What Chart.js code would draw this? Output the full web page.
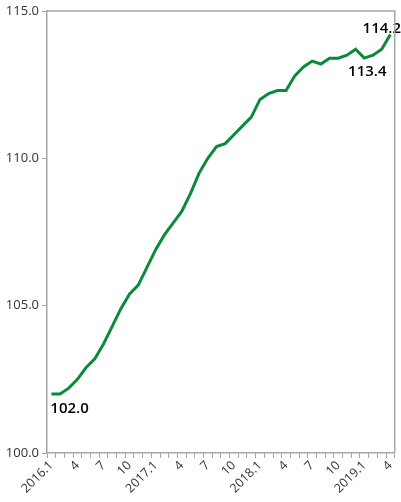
<!DOCTYPE html>
<html>
<head>
<meta charset="utf-8">
<script src="https://cdn.jsdelivr.net/npm/chart.js@4/dist/chart.umd.min.js"></script>
<style>
html,body{margin:0;padding:0;background:#fff;}
canvas{display:block;}
</style>
</head>
<body>
<canvas id="c" width="401" height="502"></canvas>
<script>
const categories = [
 "2016.1","2","3","4","5","6","7","8","9","10","11","12",
 "2017.1","2","3","4","5","6","7","8","9","10","11","12",
 "2018.1","2","3","4","5","6","7","8","9","10","11","12",
 "2019.1","2","3","4"
];
const values = [
 102.0,102.0,102.2,102.5,102.9,103.2,103.7,104.3,104.9,105.4,105.7,106.3,
 106.9,107.4,107.8,108.2,108.8,109.5,110.0,110.4,110.5,110.8,111.1,111.4,
 112.0,112.2,112.3,112.3,112.8,113.1,113.3,113.2,113.4,113.4,113.5,113.7,
 113.4,113.5,113.7,114.2
];
const yTicks = [100, 105, 110, 115];
// indices of points carrying a value label
const labelled = [0, 36, 39];

const FONT = "'Open Sans', 'Noto Sans', sans-serif";
const AXIS = "#a6a6a6";

const frame = {
  id: 'frame',
  afterDraw(chart) {
    const {ctx, chartArea: a} = chart;
    ctx.save();
    ctx.strokeStyle = AXIS;
    ctx.lineWidth = 1.5;
    ctx.beginPath();
    ctx.moveTo(a.left, a.top);
    ctx.lineTo(a.right, a.top);
    ctx.lineTo(a.right, a.bottom);
    ctx.stroke();
    ctx.restore();
  }
};

const valueLabels = {
  id: 'valueLabels',
  afterDatasetsDraw(chart) {
    const {ctx} = chart;
    const meta = chart.getDatasetMeta(0);
    ctx.save();
    ctx.font = "600 15px " + FONT;
    ctx.fillStyle = "#000";
    labelled.forEach(i => {
      const p = meta.data[i];
      const txt = values[i].toFixed(1);
      if (i === 0) {
        ctx.textAlign = 'left'; ctx.textBaseline = 'middle';
        ctx.fillText(txt, p.x - 1, p.y + 15);
      } else if (i === labelled[labelled.length - 1]) {
        ctx.textAlign = 'right'; ctx.textBaseline = 'middle';
        ctx.fillText(txt, chart.width, p.y - 6);
      } else {
        ctx.textAlign = 'center'; ctx.textBaseline = 'middle';
        ctx.fillText(txt, p.x + 3, p.y + 14);
      }
    });
    ctx.restore();
  }
};

new Chart(document.getElementById('c'), {
  type: 'line',
  data: {
    labels: categories,
    datasets: [{
      data: values,
      borderColor: '#0b8a3c',
      borderWidth: 3,
      pointRadius: 0,
      tension: 0,
      fill: false
    }]
  },
  options: {
    responsive: false,
    animation: false,
    devicePixelRatio: 1,
    layout: {padding: {top: 11, right: 1, left: 0, bottom: 0}},
    plugins: {legend: {display: false}, tooltip: {enabled: false}},
    scales: {
      x: {
        type: 'category',
        offset: true,
        grid: {offset: true, drawOnChartArea: false, tickLength: 5, color: AXIS, lineWidth: 1},
        border: {color: AXIS, width: 1.5},
        ticks: {
          autoSkip: false,
          maxRotation: 45, minRotation: 45,
          padding: 0,
          color: '#333',
          font: {family: FONT, size: 12.5},
          callback: (v, i) => (i % 3 === 0 ? categories[i] : '')
        },
        afterFit(s) { s.height = 49; }
      },
      y: {
        min: 100, max: 115,
        afterBuildTicks(s) { s.ticks = yTicks.map(v => ({value: v})); },
        grid: {drawOnChartArea: false, tickLength: 5, color: AXIS},
        border: {color: AXIS, width: 1.5},
        ticks: {
          padding: 3,
          color: '#333',
          font: {family: FONT, size: 13},
          callback: v => Number(v).toFixed(1)
        },
        afterFit(s) { s.width = 47; }
      }
    }
  },
  plugins: [frame, valueLabels]
});
</script>
</body>
</html>
